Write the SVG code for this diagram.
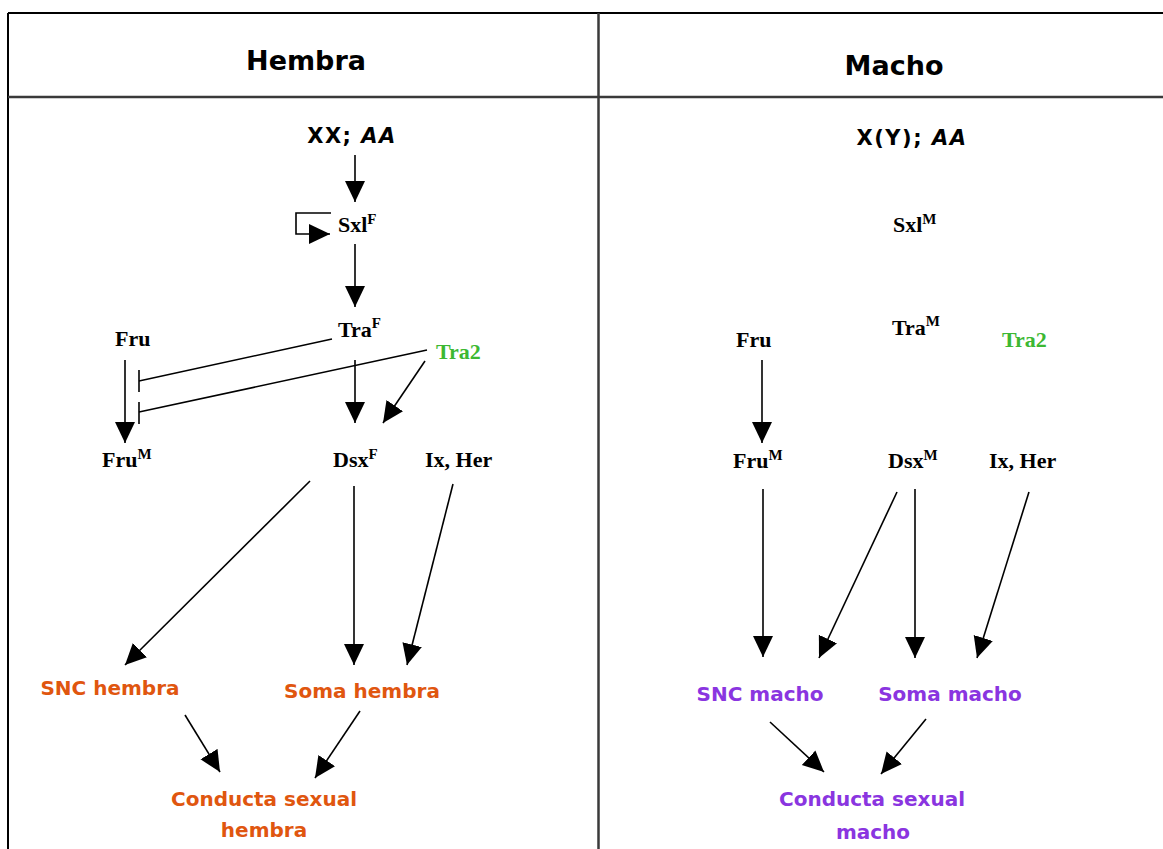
<svg xmlns="http://www.w3.org/2000/svg" width="1163" height="849" viewBox="0 0 1163 849">
  <style>
    .frame { stroke: #000; stroke-width: 2; fill: none; }
    .rule { stroke: #3a3a3a; stroke-width: 2.5; fill: none; }
    .head { font-family: "Comic Sans MS", "DejaVu Sans", sans-serif; font-weight: bold; font-size: 27px; fill: #000; text-anchor: middle; }
    .geno { font-family: "Comic Sans MS", "DejaVu Sans", sans-serif; font-weight: bold; font-size: 21px; letter-spacing: 1.5px; fill: #000; text-anchor: middle; }
    .gene { font-family: "Liberation Serif", "Times New Roman", serif; font-weight: bold; font-size: 22px; fill: #000; }
    .sup { font-size: 15px; }
    .green { fill: #3cb832; }
    .out { font-family: "Comic Sans MS", "DejaVu Sans", sans-serif; font-weight: bold; font-size: 20px; text-anchor: middle; }
    .fem { fill: #e0560f; }
    .mal { fill: #8a35e0; }
    .edge { stroke: #000; stroke-width: 1.6; fill: none; }
    .act { marker-end: url(#tri); }
  </style>
  <defs>
    <marker id="tri" markerUnits="userSpaceOnUse" markerWidth="22" markerHeight="22" viewBox="0 0 22 22" refX="21" refY="11" orient="auto">
      <path d="M0,1 L21,11 L0,21 z" fill="#000"/>
    </marker>
  </defs>

  <!-- table frame -->
  <g id="table">
    <line class="frame" x1="8" y1="13" x2="1163" y2="13"/>
    <line class="frame" x1="8" y1="13" x2="8" y2="849"/>
    <line class="rule" x1="8" y1="97" x2="1163" y2="97"/>
    <line class="rule" x1="598.5" y1="13" x2="598.5" y2="849"/>
  </g>

  <!-- column headers -->
  <g id="hdr-hembra"><text class="head" x="306" y="70">Hembra</text></g>
  <g id="hdr-macho"><text class="head" x="894" y="75">Macho</text></g>

  <!-- female column nodes -->
  <g id="f-geno"><text class="geno" x="352" y="143">XX; <tspan font-style="italic">AA</tspan></text></g>
  <g id="f-sxl"><text class="gene" x="338" y="232">Sxl<tspan class="sup" dy="-8">F</tspan></text></g>
  <g id="f-tra"><text class="gene" x="338" y="337">Tra<tspan class="sup" dy="-9">F</tspan></text></g>
  <g id="f-fru"><text class="gene" x="115" y="346">Fru</text></g>
  <g id="f-tra2"><text class="gene green" x="436" y="359">Tra2</text></g>
  <g id="f-frum"><text class="gene" x="102" y="467">Fru<tspan class="sup" dy="-8">M</tspan></text></g>
  <g id="f-dsx"><text class="gene" x="333" y="467">Dsx<tspan class="sup" dy="-8">F</tspan></text></g>
  <g id="f-ixher"><text class="gene" x="425" y="467">Ix, Her</text></g>
  <g id="f-snc"><text class="out fem" x="110" y="695">SNC hembra</text></g>
  <g id="f-soma"><text class="out fem" x="362" y="698">Soma hembra</text></g>
  <g id="f-conducta"><text class="out fem" x="264" y="806">Conducta sexual</text><text class="out fem" x="264" y="837">hembra</text></g>

  <!-- male column nodes -->
  <g id="m-geno"><text class="geno" x="912" y="145">X(Y); <tspan font-style="italic">AA</tspan></text></g>
  <g id="m-sxl"><text class="gene" x="893" y="232">Sxl<tspan class="sup" dy="-8">M</tspan></text></g>
  <g id="m-tra"><text class="gene" x="892" y="335">Tra<tspan class="sup" dy="-9">M</tspan></text></g>
  <g id="m-fru"><text class="gene" x="736" y="347">Fru</text></g>
  <g id="m-tra2"><text class="gene green" x="1002" y="347">Tra2</text></g>
  <g id="m-frum"><text class="gene" x="733" y="468">Fru<tspan class="sup" dy="-8">M</tspan></text></g>
  <g id="m-dsx"><text class="gene" x="888" y="468">Dsx<tspan class="sup" dy="-8">M</tspan></text></g>
  <g id="m-ixher"><text class="gene" x="989" y="468">Ix, Her</text></g>
  <g id="m-snc"><text class="out mal" x="760" y="701">SNC macho</text></g>
  <g id="m-soma"><text class="out mal" x="950" y="701">Soma macho</text></g>
  <g id="m-conducta"><text class="out mal" x="872" y="806">Conducta sexual</text><text class="out mal" x="873" y="839">macho</text></g>

  <!-- connectors -->
  <g id="connectors">
    <!-- female pathway -->
    <line class="edge act" x1="355" y1="155" x2="355" y2="202"/>
    <path class="edge act" d="M331,213 H296 V234 H330"/>
    <line class="edge act" x1="355" y1="244" x2="355" y2="307"/>
    <line class="edge act" x1="125" y1="360" x2="125" y2="443"/>
    <line class="edge" x1="332" y1="339" x2="139" y2="381"/>
    <line class="edge" x1="139" y1="370" x2="139" y2="392"/>
    <line class="edge" x1="427" y1="350" x2="139" y2="412"/>
    <line class="edge" x1="139" y1="402" x2="139" y2="424"/>
    <line class="edge act" x1="355" y1="360" x2="355" y2="423"/>
    <line class="edge act" x1="425" y1="361" x2="383" y2="423"/>
    <line class="edge act" x1="310" y1="481" x2="125" y2="665"/>
    <line class="edge act" x1="354" y1="486" x2="354" y2="665"/>
    <line class="edge act" x1="453" y1="484" x2="407" y2="665"/>
    <line class="edge act" x1="185" y1="715" x2="220" y2="772"/>
    <line class="edge act" x1="360" y1="711" x2="315" y2="778"/>
    <!-- male pathway -->
    <line class="edge act" x1="762" y1="360" x2="762" y2="443"/>
    <line class="edge act" x1="763" y1="489" x2="763" y2="657"/>
    <line class="edge act" x1="897" y1="492" x2="819" y2="658"/>
    <line class="edge act" x1="915" y1="489" x2="915" y2="658"/>
    <line class="edge act" x1="1029" y1="492" x2="977" y2="658"/>
    <line class="edge act" x1="770" y1="722" x2="824" y2="772"/>
    <line class="edge act" x1="926" y1="719" x2="881" y2="774"/>
  </g>
</svg>
